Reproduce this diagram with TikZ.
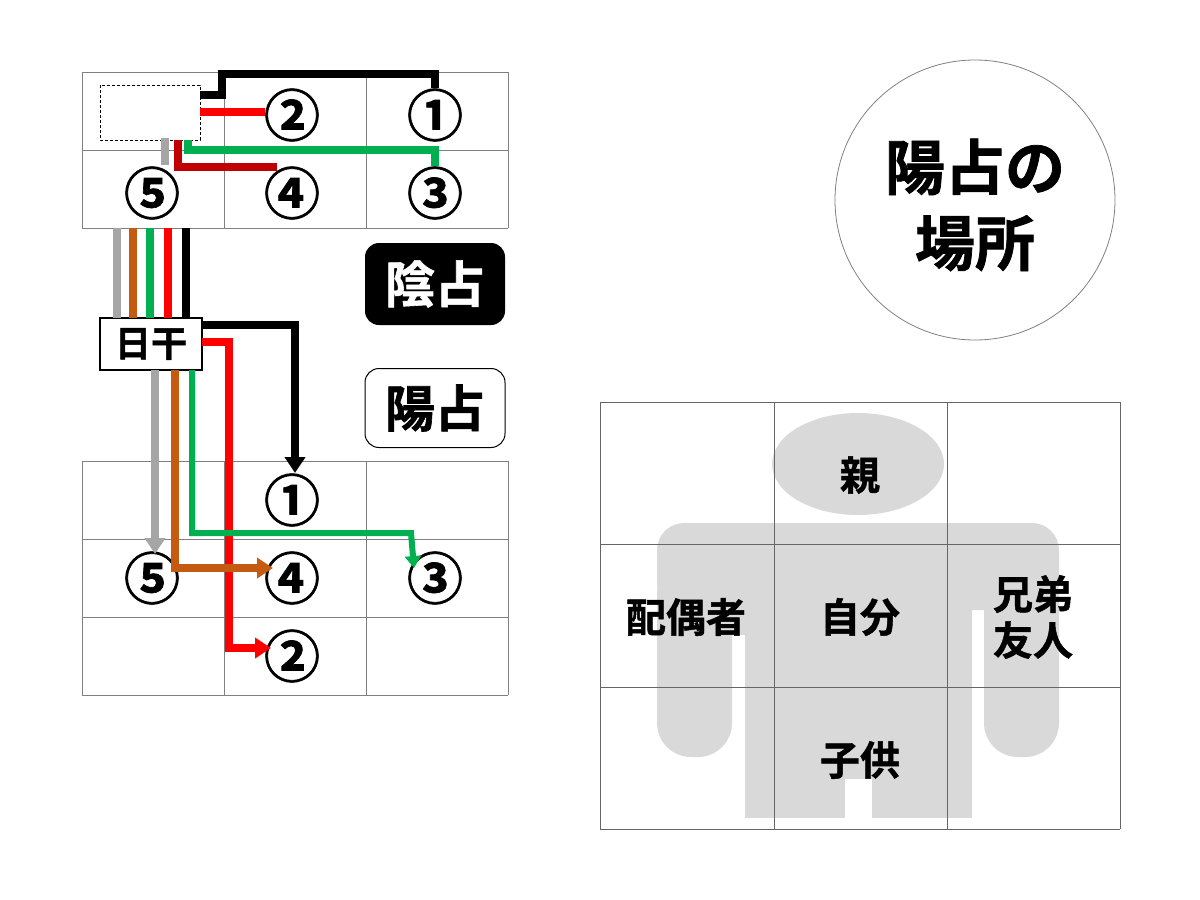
\documentclass[tikz,border=0pt]{standalone}
\usepackage{fontspec}
\setmainfont{Noto Sans CJK JP Bold}[FakeBold=1.2]
\usetikzlibrary{arrows.meta, positioning}

\definecolor{wgray}{HTML}{A6A6A6}
\definecolor{wbrown}{HTML}{C55A11}
\definecolor{wgreen}{HTML}{00B050}
\definecolor{wred}{HTML}{FF0000}
\definecolor{wdark}{HTML}{C00000}
\definecolor{figgray}{HTML}{D9D9D9}

\tikzset{
  num/.style = {font=\fontsize{56}{56}\selectfont, inner sep=0pt},
  cell/.style = {draw=gray, line width=0.8pt},
  wire/.style = {line width=8pt},
  tip/.style = {-{Triangle[width=20pt, length=16pt]}},
  label/.style = {font=\fontsize{40}{46}\selectfont, align=center, inner sep=0pt},
}

\begin{document}
\begin{tikzpicture}[x=1pt, y=-1pt]
  \useasboundingbox (0,0) rectangle (1200,900);

  % top grid (陰占)
  \foreach \x in {82,224,366,508} \draw[cell] (\x,72) -- (\x,228);
  \foreach \y in {72,150,228} \draw[cell] (82,\y) -- (508,\y);
  \draw[densely dashed, line width=0.6pt] (100,85) rectangle (200,140);
  \node[num] (t2) at (292,115) {②};
  \node[num] (t1) at (435,115) {①};
  \node[num] (t5) at (152,193) {⑤};
  \node[num] (t4) at (292,193) {④};
  \node[num] (t3) at (435,193) {③};

  \draw[wire, black] (200,95) -- (222,95) -- (222,74) -- (435,74) -- (t1.north);
  \draw[wire, wred] (200,112) -- (265,112);
  \draw[wire, wgreen] (188,140) -- (188,150) -- (435,150) -- (t3.north);
  \draw[wire, wdark] (178,140) -- (178,167) -- (277,167);
  \draw[wire, wgray] (165,138) -- (165,165);

  % bundle
  \node[draw, line width=1.2pt, fill=white, minimum width=102pt, minimum height=52pt,
        font=\fontsize{36}{36}\selectfont] (nikkan) at (151,344) {日干};
  \foreach \x/\c in {117/wgray, 133/wbrown, 150/wgreen, 168/wred, 186/black}
    \draw[wire, \c] (\x,228) -- (\x,318);

  % bottom grid (陽占)
  \foreach \x in {82,224,366,508} \draw[cell] (\x,461) -- (\x,695);
  \foreach \y in {461,539,617,695} \draw[cell] (82,\y) -- (508,\y);
  \node[num] (b1) at (292,500) {①};
  \node[num] (b5) at (152,578) {⑤};
  \node[num] (b4) at (292,578) {④};
  \node[num] (b3) at (435,578) {③};
  \node[num] (b2) at (292,656) {②};

  \draw[wire, black, tip] (202,325) -- (295,325) -- (295,473);
  \draw[wire, wred, tip] (202,342) -- (229,342) -- (229,648) -- (271,648);
  \draw[wire, wgray, tip] (155,370) -- (155,554);
  \draw[wire, wbrown, tip] (175,370) -- (175,568) -- (273,568);
  \draw[line width=6pt, wgreen, -{Triangle[width=16pt, length=12pt]}]
    (192,370) -- (192,533) -- (411,533) -- (414,568);

  % labels
  \node[fill=black, rounded corners=14pt, minimum width=140pt, minimum height=82pt,
        text=white, font=\fontsize{50}{50}\selectfont] (inzen) at (435,284) {陰占};
  \node[draw, line width=1pt, rounded corners=14pt, minimum width=140pt, minimum height=79pt,
        font=\fontsize{50}{50}\selectfont] (yozen) at (435,408) {陽占};
  \draw[line width=0.8pt, gray] (975,200) circle[radius=140];
  \node[font=\fontsize{60}{76}\selectfont, align=center] (basho) at (975,205) {陽占の\\場所};

  % figure
  \fill[figgray] (858,464) ellipse[x radius=86, y radius=51];
  \begin{scope}[figgray]
    \fill[rounded corners=27pt] (657,523) rectangle (1059,610);
    \fill[rounded corners=34pt] (657,560) rectangle (732,757);
    \fill[rounded corners=34pt] (984,560) rectangle (1059,757);
    \fill (732,590) rectangle (745,635);
    \fill (745,523) rectangle (972,779);
    \fill (745,778) rectangle (845,818);
    \fill (872,778) rectangle (972,818);
  \end{scope}
  \foreach \x in {600,774,947,1120} \draw[line width=0.9pt, black!60] (\x,402) -- (\x,829);
  \foreach \y in {402,544,687,829} \draw[line width=0.9pt, black!60] (600,\y) -- (1120,\y);
  \node[label] (oya) at (860,475) {親};
  \node[label] (jibun) at (860,617) {自分};
  \node[label] (haigu) at (686,617) {配偶者};
  \node[label] (kyodai) at (1033,617) {兄弟\\友人};
  \node[label] (kodomo) at (860,760) {子供};
\end{tikzpicture}
\end{document}
